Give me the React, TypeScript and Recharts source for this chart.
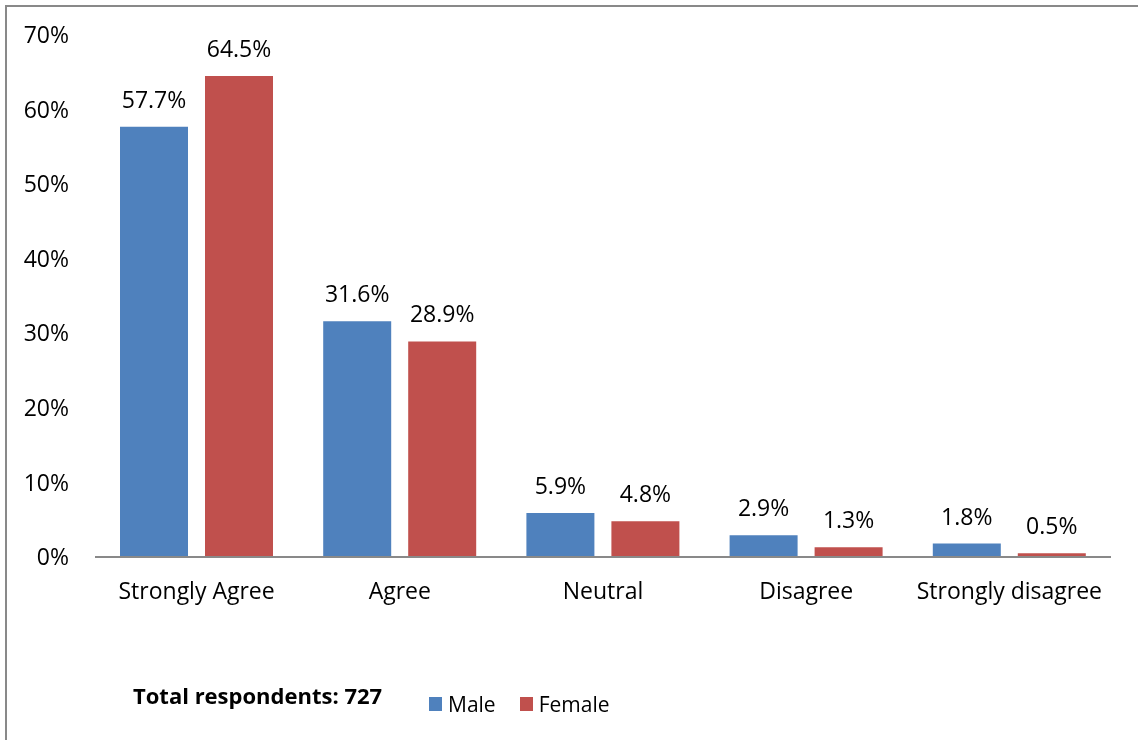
import React from "react";
import { BarChart, Bar, XAxis, YAxis, LabelList } from "recharts";

const categories = ["Strongly Agree", "Agree", "Neutral", "Disagree", "Strongly disagree"];
const male = [57.7, 31.6, 5.9, 2.9, 1.8];
const female = [64.5, 28.9, 4.8, 1.3, 0.5];
const yTicks = [0, 10, 20, 30, 40, 50, 60, 70];

const data = categories.map((name, i) => ({
  name,
  Male: male[i],
  Female: female[i],
}));

const FONT = "'Open Sans', sans-serif";
const BLUE = "#4F81BD";
const RED = "#C0504D";
const FS = 23;

const seriesList = [
  { key: "Male", color: BLUE },
  { key: "Female", color: RED },
];

const pct = (v: number) => `${v.toFixed(1)}%`;

const App = () => {
  return (
    <div>
      <div
        style={{
          position: "fixed",
          left: 5,
          top: 5,
          width: 1150,
          height: 760,
          border: "2px solid #898989",
          boxSizing: "border-box",
        }}
      />
      <div style={{ position: "fixed", left: 0, top: 0, width: 1138, height: 740 }}>
        <BarChart
          width={1138}
          height={740}
          data={data}
          margin={{ top: 35, right: 27, left: 0, bottom: 143 }}
          barSize={68}
          barGap={17}
        >
          <XAxis
            dataKey="name"
            height={40}
            axisLine={{ stroke: "#898989", strokeWidth: 2 }}
            tickLine={false}
            tickSize={0}
            tickMargin={26}
            tick={{ fill: "#000", fontSize: FS, fontFamily: FONT }}
            interval={0}
          />
          <YAxis
            width={95}
            domain={[0, 70]}
            ticks={yTicks}
            axisLine={false}
            tickLine={false}
            tickSize={0}
            tickMargin={26}
            tickFormatter={(v: number) => `${v}%`}
            tick={{ fill: "#000", fontSize: FS, fontFamily: FONT }}
          />
          {seriesList.map((s) => (
            <Bar key={s.key} dataKey={s.key} fill={s.color} isAnimationActive={false}>
              <LabelList
                dataKey={s.key}
                position="top"
                offset={19}
                formatter={pct}
                style={{ fill: "#000", fontSize: FS, fontFamily: FONT }}
              />
            </Bar>
          ))}
        </BarChart>
        <div
          style={{
            position: "absolute",
            left: 133,
            top: 680,
            fontFamily: FONT,
            fontWeight: 700,
            fontSize: 22,
            color: "#000",
          }}
        >
          Total respondents: 727
        </div>
        <div
          style={{
            position: "absolute",
            left: 429,
            top: 690,
            display: "flex",
            alignItems: "center",
            fontFamily: FONT,
            fontSize: 21,
            color: "#000",
          }}
        >
          {seriesList.map((s) => (
            <div key={s.key} style={{ display: "flex", alignItems: "center", marginRight: 24 }}>
              <span
                style={{ display: "inline-block", width: 13, height: 14, background: s.color, marginRight: 6 }}
              />
              <span>{s.key}</span>
            </div>
          ))}
        </div>
      </div>
    </div>
  );
};

export default App;
